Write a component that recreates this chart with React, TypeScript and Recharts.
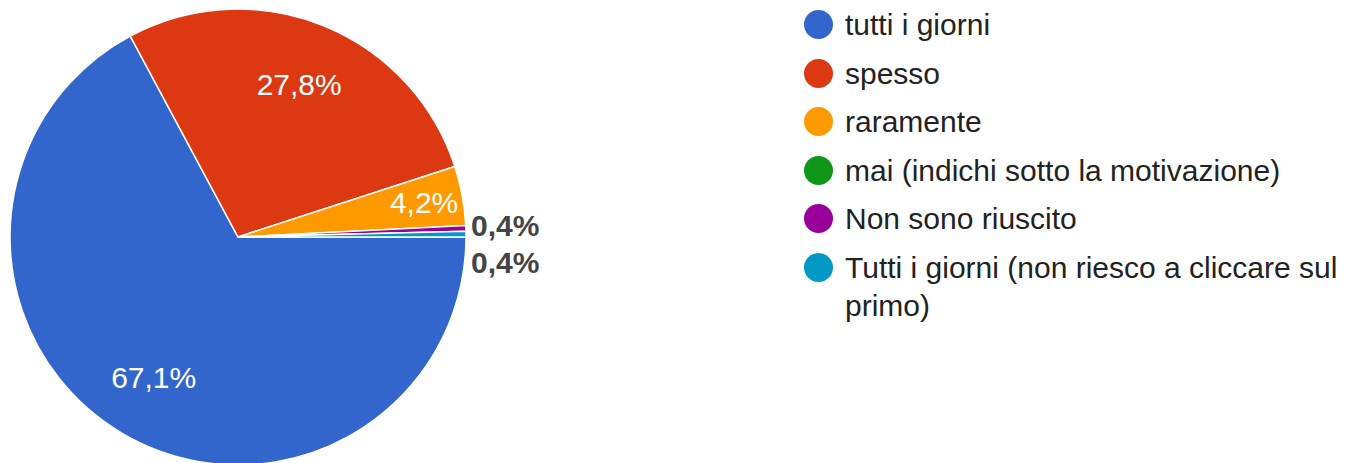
import React from 'react';
import { PieChart, Pie, Cell, Legend } from 'recharts';

const categories = [
  'tutti i giorni',
  'spesso',
  'raramente',
  'mai (indichi sotto la motivazione)',
  'Non sono riuscito',
  'Tutti i giorni (non riesco a cliccare sul primo)',
];
const percentages = [67.1, 27.8, 4.2, 0, 0.4, 0.4];
const percentLabels = ['67,1%', '27,8%', '4,2%', '', '0,4%', '0,4%'];
const colors = ['#3366cc', '#dc3912', '#ff9900', '#109618', '#990099', '#0099c6'];

const data = categories.map((name, i) => ({ name, value: percentages[i], label: percentLabels[i] }));

const FONT = '"Liberation Sans", Arial, sans-serif';
const RADIAN = Math.PI / 180;

function renderLabel(props: any) {
  const { cx, cy, midAngle, outerRadius, index } = props;
  const d = data[index];
  if (!d || !d.label) return null;
  if (d.value >= 3) {
    const r = outerRadius * (d.value < 10 ? 0.83 : 0.72);
    const x = cx + r * Math.cos(-midAngle * RADIAN);
    const y = cy + r * Math.sin(-midAngle * RADIAN);
    return (
      <text x={x} y={y} fill="#ffffff" textAnchor="middle" dominantBaseline="central"
        fontSize={30} fontFamily={FONT}>
        {d.label}
      </text>
    );
  }
  // small slices: placed just outside, stacked around the horizontal
  const smallIdx = data.filter((e, j) => j < index && e.label && e.value < 3).length;
  const x = cx + outerRadius + 5;
  const y = cy + (smallIdx === 0 ? -12 : 25);
  return (
    <text x={x} y={y} fill="#444444" textAnchor="start" dominantBaseline="central"
      fontSize={30} fontWeight="bold" fontFamily={FONT}>
      {d.label}
    </text>
  );
}

function renderLegend(props: any) {
  const payload = props.payload || [];
  const items = categories.map((name, i) => {
    const p = payload.find((e: any) => e.value === name);
    return { name, color: (p && p.color) || colors[i] };
  });
  return (
    <div style={{ fontFamily: FONT, fontSize: 30, color: '#222222' }}>
      {items.map((it) => (
        <div key={it.name} style={{ display: 'flex', alignItems: 'flex-start', marginBottom: 10.5 }}>
          <div style={{ width: 29, height: 29, borderRadius: '50%', background: it.color, marginTop: 4, flex: '0 0 29px' }} />
          <div style={{ marginLeft: 12, lineHeight: '38px', width: 505 }}>{it.name}</div>
        </div>
      ))}
    </div>
  );
}

export default function App() {
  return (
    <div style={{ width: 1333, height: 455 }}>
      <PieChart width={1333} height={455} margin={{ top: 0, right: 0, bottom: 0, left: 0 }}>
        <Pie
          data={data}
          dataKey="value"
          nameKey="name"
          cx={230}
          cy={229}
          outerRadius={228}
          startAngle={0}
          endAngle={-360}
          stroke="#ffffff"
          strokeWidth={1.5}
          label={renderLabel}
          labelLine={false}
          isAnimationActive={false}
        >
          {data.map((d, i) => (
            <Cell key={d.name} fill={colors[i]} />
          ))}
        </Pie>
        <Legend
          layout="vertical"
          align="right"
          verticalAlign="top"
          content={renderLegend}
          wrapperStyle={{ left: 796, top: -2, width: 560 }}
        />
      </PieChart>
    </div>
  );
}
